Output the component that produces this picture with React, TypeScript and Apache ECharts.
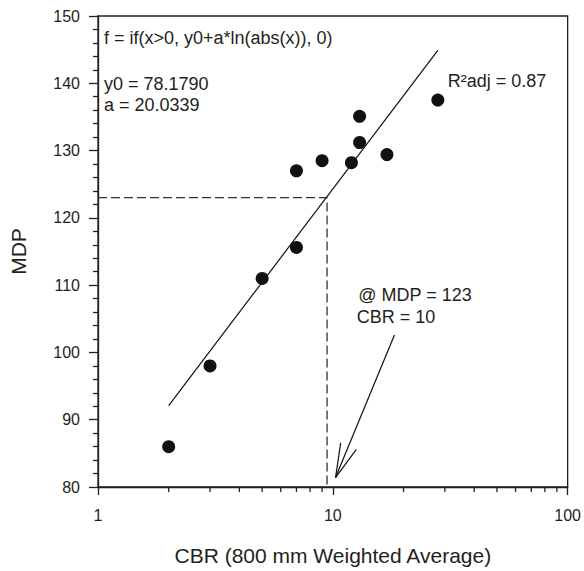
import React, { useEffect, useRef } from "react";
import * as echarts from "echarts";

// Measured data: CBR (x) vs MDP (y)
const cbrValues = [2, 3, 5, 7, 7, 9, 12, 13, 13, 17, 28];
const mdpValues = [86, 98, 111, 115.6, 127, 128.5, 128.2, 131.2, 135.1, 129.4, 137.5];

// Fitted logarithmic curve end points (straight on a log axis)
const fitX = [2, 28];
const fitY = [92.1, 144.9];

// Reading at MDP = 123
const readX = [1, 9.45, 9.45];
const readY = [123, 123, 80];

// Arrow from annotation to the axis: [x start, y start, x end, y end]
const arrowData = [[18.3, 102.6, 10.27, 81.4]];

// Minor ticks of the log x axis
const minorTickValues = [2, 3, 4, 5, 6, 7, 8, 9, 20, 30, 40, 50, 60, 70, 80, 90];

const yMin = 80;
const yMax = 150;
const xMin = 1;
const xMax = 100;

const FONT = "'Liberation Sans', Arial, Helvetica, sans-serif";
const INK = "#231f20";

export default function App() {
  const ref = useRef<HTMLDivElement>(null);

  useEffect(() => {
    if (!ref.current) return;
    const chart = echarts.init(ref.current, undefined, { renderer: "svg" });

    const points = cbrValues.map((x, i) => [x, mdpValues[i]]);
    const fit = fitX.map((x, i) => [x, fitY[i]]);
    const read = readX.map((x, i) => [x, readY[i]]);

    const annText = (text: string, x: number, y: number) => ({
      type: "text",
      x,
      y,
      z: 10,
      style: {
        text,
        font: `18px ${FONT}`,
        fill: INK,
        verticalAlign: "middle",
        align: "left",
      },
    });

    chart.setOption({
      animation: false,
      backgroundColor: "#ffffff",
      textStyle: { fontFamily: FONT },
      grid: {
        left: 93,
        right: 16,
        top: 16,
        bottom: 82,
        show: true,
        borderColor: INK,
        borderWidth: 1.3,
        backgroundColor: "transparent",
      },
      xAxis: {
        type: "log",
        logBase: 10,
        min: xMin,
        max: xMax,
        name: "CBR (800 mm Weighted Average)",
        nameLocation: "middle",
        nameGap: 58,
        nameTextStyle: { fontSize: 21, color: INK, fontFamily: FONT },
        axisLine: { show: true, lineStyle: { color: INK, width: 1.3 } },
        axisTick: { show: true, length: 8, lineStyle: { color: INK, width: 1.3 } },
        minorTick: { show: false },
        splitLine: { show: false },
        minorSplitLine: { show: false },
        axisLabel: { fontSize: 16, color: INK, margin: 20, fontFamily: FONT },
      },
      yAxis: {
        type: "value",
        min: yMin,
        max: yMax,
        interval: 10,
        name: "MDP",
        nameLocation: "middle",
        nameGap: 69,
        nameTextStyle: { fontSize: 21, color: INK, fontFamily: FONT },
        axisLine: { show: true, lineStyle: { color: INK, width: 1.3 } },
        axisTick: { show: true, length: 9, lineStyle: { color: INK, width: 1.3 } },
        minorTick: { show: true, splitNumber: 5, length: 5, lineStyle: { color: INK, width: 1.3 } },
        splitLine: { show: false },
        minorSplitLine: { show: false },
        axisLabel: { fontSize: 16, color: INK, margin: 18, fontFamily: FONT },
      },
      graphic: [
        annText("f = if(x>0, y0+a*ln(abs(x)), 0)", 104, 38),
        annText("y0 = 78.1790", 104, 84.4),
        annText("a = 20.0339", 104, 105.4),
        annText("R²adj = 0.87", 447.7, 81),
        annText("@ MDP = 123", 358.3, 295.4),
        annText("CBR = 10", 356.7, 317),
      ],
      series: [
        {
          type: "line",
          data: read,
          symbol: "none",
          lineStyle: { color: "#333333", width: 1.3, type: [9, 4] },
          z: 2,
        },
        {
          type: "line",
          data: fit,
          symbol: "none",
          lineStyle: { color: "#111111", width: 1.2 },
          z: 3,
        },
        {
          type: "scatter",
          data: points,
          symbol: "circle",
          symbolSize: 13,
          itemStyle: { color: "#111111", opacity: 1 },
          z: 4,
        },
        {
          type: "custom",
          data: arrowData,
          encode: { x: [0, 2], y: [1, 3] },
          clip: false,
          z: 5,
          renderItem: (_params: any, api: any) => {
            const s = api.coord([api.value(0), api.value(1)]);
            const e = api.coord([api.value(2), api.value(3)]);
            const dx = s[0] - e[0];
            const dy = s[1] - e[1];
            const len = Math.sqrt(dx * dx + dy * dy);
            const ux = dx / len;
            const uy = dy / len;
            const ang = (14 * Math.PI) / 180;
            const wl = 35;
            const rot = (a: number) => [
              e[0] + wl * (ux * Math.cos(a) - uy * Math.sin(a)),
              e[1] + wl * (ux * Math.sin(a) + uy * Math.cos(a)),
            ];
            const w1 = rot(ang);
            const w2 = rot(-ang);
            const st = { stroke: "#111111", lineWidth: 1.2, fill: "none" };
            return {
              type: "group",
              children: [
                { type: "line", shape: { x1: s[0], y1: s[1], x2: e[0], y2: e[1] }, style: st },
                { type: "polyline", shape: { points: [w1, e, w2] }, style: st },
              ],
            };
          },
        },
        {
          type: "custom",
          data: minorTickValues.map((v) => [v, yMin]),
          encode: { x: 0, y: 1 },
          clip: false,
          z: 5,
          renderItem: (_params: any, api: any) => {
            const p = api.coord([api.value(0), api.value(1)]);
            return {
              type: "line",
              shape: { x1: p[0], y1: p[1], x2: p[0], y2: p[1] + 5 },
              style: { stroke: INK, lineWidth: 1.3 },
            };
          },
        },
      ],
    });

    return () => chart.dispose();
  }, []);

  return (
    <div
      ref={ref}
      style={{ position: "fixed", left: 0, top: 0, width: 584, height: 571, background: "#fff" }}
    />
  );
}
